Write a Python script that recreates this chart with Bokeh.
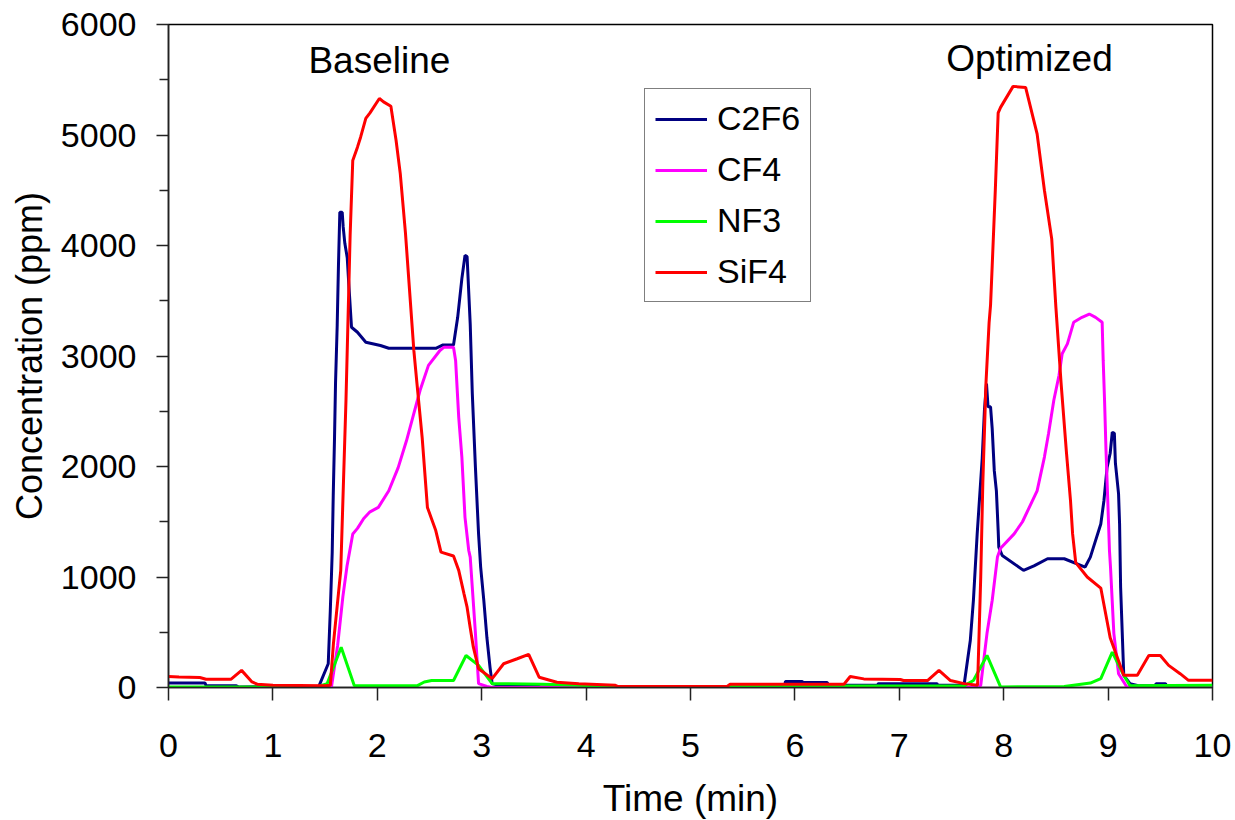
from bokeh.plotting import figure
from bokeh.models import FixedTicker, Legend, LegendItem, Label
from bokeh.embed import file_html
from bokeh.resources import INLINE

# ---- data (time in min, concentration in ppm) ----
c2f6_t = [0, 0.35, 0.36, 0.65, 0.67, 1.44, 1.53, 1.55, 1.568, 1.578, 1.59, 1.60, 1.616, 1.628,
          1.641, 1.664, 1.673, 1.689, 1.712, 1.727, 1.753, 1.81, 1.89, 2.03, 2.11, 2.56, 2.63,
          2.73, 2.77, 2.81, 2.84, 2.86, 2.89, 2.91, 2.94, 2.97, 2.99, 3.02, 3.05, 3.08, 3.10,
          3.2, 5.9, 5.91, 6.07, 6.08, 6.31, 6.32, 6.79, 6.8, 7.36, 7.37, 7.62, 7.68, 7.71,
          7.746, 7.778, 7.794, 7.816, 7.835, 7.85, 7.874, 7.89, 7.91, 7.93, 7.947, 7.953, 7.986,
          8.19, 8.29, 8.42, 8.58, 8.78, 8.83, 8.86, 8.93, 8.96, 8.99, 9.02, 9.04, 9.06, 9.07,
          9.10, 9.11, 9.12, 9.15, 9.21, 9.3, 9.45, 9.46, 9.55, 9.56, 10.0]
c2f6 = [40, 40, 15, 15, 5, 10, 215, 700, 1220, 1740, 2250, 2760, 3280, 3820,
        4300, 4300, 4170, 4020, 3890, 3650, 3260, 3215, 3125, 3095, 3070, 3070, 3100,
        3100, 3350, 3700, 3910, 3900, 3290, 2660, 1990, 1390, 1090, 790, 450, 180, 35,
        10, 10, 55, 55, 45, 45, 20, 20, 35, 35, 20, 20, 425, 790,
        1390, 1845, 2070, 2520, 2750, 2540, 2540, 2340, 1960, 1780, 1420, 1270, 1195,
        1060, 1100, 1165, 1165, 1090, 1180, 1270, 1480, 1690, 1990, 2120, 2310, 2300, 2030,
        1755, 1480, 905, 110, 35, 15, 15, 35, 35, 15, 15]

cf4_t = [0, 1.56, 1.62, 1.67, 1.71, 1.765, 1.81, 1.87, 1.93, 2.01, 2.11, 2.20, 2.28, 2.34,
         2.41, 2.49, 2.60, 2.64, 2.73, 2.75, 2.78, 2.81, 2.84, 2.876, 2.89, 2.94, 2.97, 3.05,
         3.10, 3.56, 3.57, 3.72, 3.73, 7.76, 7.78, 7.84, 7.89, 7.94, 7.97, 8.10, 8.18, 8.32,
         8.39, 8.43, 8.48, 8.53, 8.56, 8.61, 8.67, 8.75, 8.82, 8.88, 8.943, 8.953, 8.966,
         8.98, 8.997, 9.013, 9.023, 9.055, 9.10, 9.18, 10.0]
cf4 = [0, 0, 380, 820, 1100, 1390, 1440, 1530, 1590, 1630, 1780, 1990, 2235, 2445,
       2690, 2915, 3050, 3080, 3080, 2960, 2445, 2085, 1540, 1240, 1180, 490, 35, 10,
       0, 0, 10, 10, 0, 0, 20, 490, 790, 1180, 1260, 1390, 1500, 1780,
       2085, 2300, 2600, 2825, 3020, 3110, 3305, 3350, 3380, 3350, 3305, 2960, 2600,
       2145, 1690, 1240, 1090, 490, 125, 5, 5]

nf3_t = [0, 1.42, 1.52, 1.654, 1.78, 2.38, 2.45, 2.52, 2.73, 2.85, 2.97, 3.10, 3.58, 3.93,
         4.28, 5.35, 7.62, 7.71, 7.84, 7.97, 8.58, 8.83, 8.93, 9.04, 9.15, 9.21, 10.0]
nf3 = [5, 5, 35, 365, 15, 15, 50, 63, 63, 290, 200, 35, 30, 20,
       5, 10, 15, 63, 290, 5, 10, 40, 80, 320, 110, 15, 20]

sif4_t = [0, 0.1, 0.3, 0.36, 0.6, 0.7, 0.8, 0.85, 1.0, 1.5, 1.55, 1.58, 1.65, 1.70, 1.74,
          1.765, 1.81, 1.84, 1.89, 1.93, 2.02, 2.06, 2.13, 2.18, 2.22, 2.27, 2.35, 2.38, 2.43,
          2.48, 2.56, 2.61, 2.73, 2.78, 2.83, 2.86, 2.89, 2.92, 2.97, 3.10, 3.21, 3.34, 3.45,
          3.55, 3.72, 3.93, 4.28, 4.3, 5.35, 5.38, 6.47, 6.53, 6.66, 7.01, 7.04, 7.27, 7.38,
          7.49, 7.62, 7.75, 7.78, 7.80, 7.83, 7.86, 7.874, 7.89, 7.92, 7.947, 7.97, 8.09, 8.21,
          8.32, 8.39, 8.46, 8.50, 8.55, 8.60, 8.64, 8.66, 8.69, 8.80, 8.93, 9.02, 9.15, 9.28,
          9.39, 9.50, 9.58, 9.69, 9.77, 10.0]
sif4 = [100, 95, 90, 75, 75, 155, 50, 30, 20, 15, 20, 400, 1060, 2600, 4100,
        4770, 4890, 4980, 5150, 5200, 5330, 5300, 5260, 4950, 4650, 4110, 3050, 2750, 2260,
        1630, 1420, 1225, 1190, 1060, 850, 727, 540, 365, 170, 80, 215, 260, 300,
        93, 48, 35, 20, 10, 10, 30, 30, 100, 78, 72, 63, 63, 154,
        63, 35, 20, 1000, 1850, 2750, 3300, 3460, 3820, 4510, 5200, 5250, 5440, 5430,
        5010, 4500, 4060, 3440, 2750, 2140, 1690, 1390, 1130, 1000, 900, 450, 110, 110,
        290, 290, 200, 125, 65, 65]

series = [("C2F6", c2f6_t, c2f6, "#000080"),
          ("CF4", cf4_t, cf4, "#FF00FF"),
          ("NF3", nf3_t, nf3, "#00FF00"),
          ("SiF4", sif4_t, sif4, "#FF0000")]

x_ticks = list(range(0, 11))
y_ticks = list(range(0, 6001, 1000))
y_minor = list(range(500, 6000, 1000))

FONT = "Liberation Sans"

p = figure(frame_width=1044, frame_height=663, x_range=(0, 10), y_range=(0, 6000),
           output_backend="svg", toolbar_location=None,
           min_border_left=168, min_border_right=23, min_border_top=24, min_border_bottom=133)
p.grid.visible = False
p.outline_line_color = "black"
p.outline_line_width = 1.5
p.background_fill_color = "white"
p.border_fill_color = "white"

renderers = []
for name, t, v, col in series:
    r = p.line(t, v, line_color=col, line_width=3)
    renderers.append((name, r))

# axes
p.xaxis.ticker = FixedTicker(ticks=x_ticks, minor_ticks=[])
p.yaxis.ticker = FixedTicker(ticks=y_ticks, minor_ticks=y_minor)
for ax in (p.xaxis[0], p.yaxis[0]):
    ax.axis_line_color = "#222222"
    ax.axis_line_width = 1.5
    ax.major_tick_line_color = "#222222"
    ax.major_tick_line_width = 1.5
    ax.minor_tick_line_color = "#222222"
    ax.minor_tick_line_width = 1.5
    ax.major_tick_in = 0
    ax.minor_tick_in = 0
    ax.major_label_text_font = FONT
    ax.major_label_text_font_size = "34px"
    ax.major_label_text_color = "black"
    ax.axis_label_text_font = FONT
    ax.axis_label_text_font_size = "37px"
    ax.axis_label_text_font_style = "normal"
    ax.axis_label_text_color = "black"

p.xaxis.axis_label = "Time (min)"
p.xaxis.major_tick_out = 13
p.xaxis.minor_tick_out = 0
p.xaxis.major_label_standoff = 33
p.xaxis.axis_label_standoff = 18

p.yaxis.axis_label = "Concentration (ppm)"
p.yaxis.axis_label_text_font_size = "36px"
p.yaxis.major_tick_out = 12
p.yaxis.minor_tick_out = 9
p.yaxis.major_label_standoff = 20
p.yaxis.axis_label_standoff = 8

# legend
legend = Legend(items=[LegendItem(label=n, renderers=[r]) for n, r in renderers],
                location=(476, 385))
legend.border_line_color = "black"
legend.border_line_width = 1.2
legend.background_fill_color = "white"
legend.background_fill_alpha = 1.0
legend.label_text_font = FONT
legend.label_text_font_size = "34px"
legend.label_text_color = "black"
legend.glyph_width = 52
legend.glyph_height = 34
legend.label_height = 34
legend.spacing = 12
legend.padding = 10
legend.margin = 0
legend.label_standoff = 10
p.add_layout(legend)

p.add_layout(Label(x=2.02, y=5674, text="Baseline", text_align="center",
                   text_baseline="middle", text_font=FONT, text_font_size="37px",
                   text_color="black"))
p.add_layout(Label(x=8.247, y=5692, text="Optimized", text_align="center",
                   text_baseline="middle", text_font=FONT, text_font_size="37px",
                   text_color="black"))

open("out.html", "w").write(file_html(p, INLINE))
